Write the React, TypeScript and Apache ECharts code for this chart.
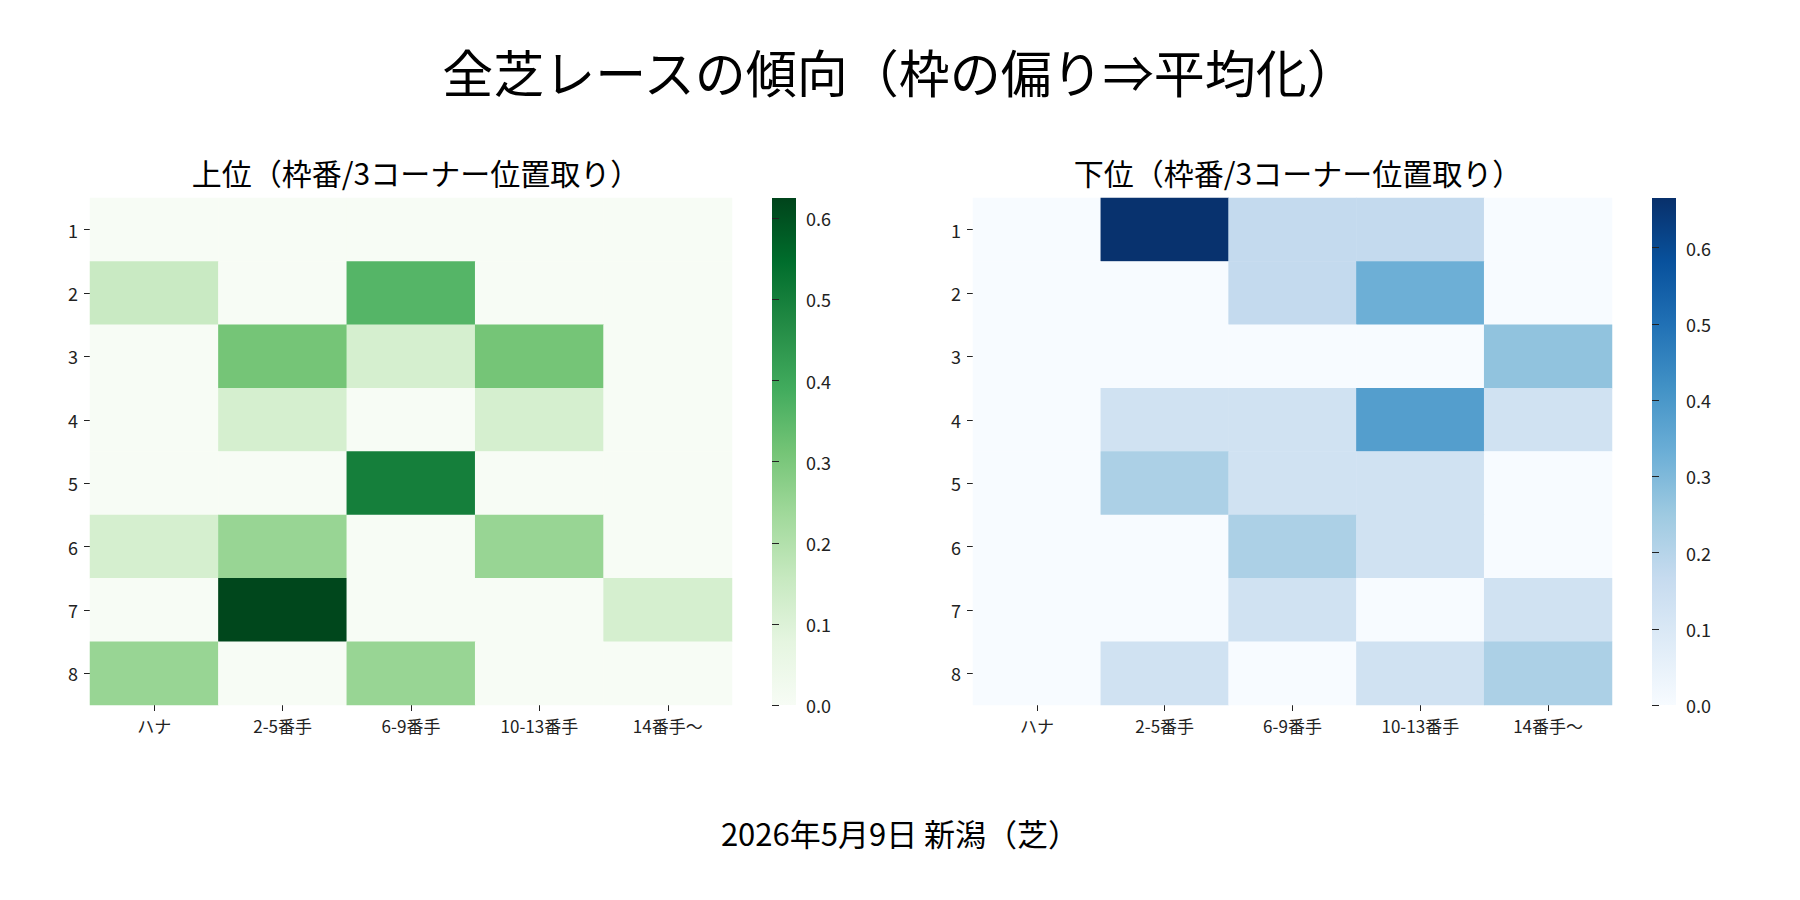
import * as echarts from "echarts";
import { useEffect, useRef } from "react";

const cols = ["ハナ", "2-5番手", "6-9番手", "10-13番手", "14番手〜"];
const rows = ["1", "2", "3", "4", "5", "6", "7", "8"];

const topValues = [
  [0, 0, 0, 0, 0],
  [0.15, 0, 0.36, 0, 0],
  [0, 0.31, 0.12, 0.31, 0],
  [0, 0.12, 0, 0.12, 0],
  [0, 0, 0.5, 0, 0],
  [0.12, 0.25, 0, 0.25, 0],
  [0, 0.62, 0, 0, 0.12],
  [0.25, 0, 0.25, 0, 0]
];
const bottomValues = [
  [0, 0.66, 0.17, 0.17, 0],
  [0, 0, 0.17, 0.33, 0],
  [0, 0, 0, 0, 0.27],
  [0, 0.13, 0.13, 0.38, 0.13],
  [0, 0.22, 0.13, 0.13, 0],
  [0, 0, 0.22, 0.13, 0],
  [0, 0, 0.13, 0, 0.13],
  [0, 0.13, 0, 0.13, 0.22]
];
const topMax = 0.625;
const bottomMax = 0.665;

const greens = ["#f7fcf5", "#e5f5e0", "#c7e9c0", "#a1d99b", "#74c476", "#41ab5d", "#238b45", "#006d2c", "#00441b"];
const blues = ["#f7fbff", "#deebf7", "#c6dbef", "#9ecae1", "#6baed6", "#4292c6", "#2171b5", "#08519c", "#08306b"];

const font = "'Noto Sans CJK JP', 'Noto Sans', sans-serif";

const panels = [
  { left: 90, width: 642, barLeft: 772, title: "上位（枠番/3コーナー位置取り）", values: topValues, max: topMax, colors: greens },
  { left: 973, width: 639, barLeft: 1652, title: "下位（枠番/3コーナー位置取り）", values: bottomValues, max: bottomMax, colors: blues }
];
const top = 198;
const height = 507;
const barWidth = 24;

function toCells(values: number[][]) {
  const out: number[][] = [];
  values.forEach((row, r) => row.forEach((v, c) => out.push([c, r, v])));
  return out;
}

function buildOption(): echarts.EChartsOption {
  const grid: any[] = [];
  const xAxis: any[] = [];
  const yAxis: any[] = [];
  const series: any[] = [];
  const visualMap: any[] = [];
  const graphic: any[] = [];
  const label = { color: "#222", fontSize: 18, fontFamily: font };

  panels.forEach((p, i) => {
    const g = i * 2;
    grid.push({ left: p.left, top, width: p.width, height });
    grid.push({ left: p.barLeft, top, width: barWidth, height });
    xAxis.push({
      type: "category", gridIndex: g, data: cols, position: "bottom",
      axisLine: { show: false }, axisTick: { show: true, length: 6, alignWithLabel: true, lineStyle: { color: "#222" } },
      axisLabel: { ...label, fontSize: 17, margin: 12 }, splitLine: { show: false }
    });
    xAxis.push({ type: "value", gridIndex: g + 1, show: false, min: 0, max: 1 });
    yAxis.push({
      type: "category", gridIndex: g, data: rows, inverse: true,
      axisLine: { show: false }, axisTick: { show: true, length: 6, alignWithLabel: true, lineStyle: { color: "#222" } },
      axisLabel: { ...label, margin: 12 }, splitLine: { show: false }
    });
    yAxis.push({
      type: "value", gridIndex: g + 1, position: "right", min: 0, max: p.max, interval: 0.1,
      axisLine: { show: false }, axisTick: { show: true, length: 7, lineStyle: { color: "#222" } },
      axisLabel: { ...label, margin: 10, showMaxLabel: false, formatter: (v: number) => v.toFixed(1) }, splitLine: { show: false }
    });
    series.push({
      type: "heatmap", xAxisIndex: g, yAxisIndex: g, data: toCells(p.values),
      itemStyle: { borderWidth: 0 }, emphasis: { disabled: true }
    });
    visualMap.push({ show: false, seriesIndex: i, min: 0, max: p.max, inRange: { color: p.colors } });
    graphic.push({
      type: "rect", shape: { x: p.barLeft, y: top, width: barWidth, height }, z: -1,
      style: {
        fill: new echarts.graphic.LinearGradient(0, 1, 0, 0,
          p.colors.map((c, k) => ({ offset: k / (p.colors.length - 1), color: c })))
      }
    });
  });

  return {
    animation: false,
    backgroundColor: "#fff",
    title: [
      { text: "全芝レースの傾向（枠の偏り⇒平均化）", left: "center", top: 40, textStyle: { fontSize: 51, fontWeight: "normal", color: "#000", fontFamily: font } },
      { text: panels[0].title, left: 90 + 321, textAlign: "center", top: 152, textStyle: { fontSize: 30, fontWeight: "normal", color: "#000", fontFamily: font } },
      { text: panels[1].title, left: 973 + 320, textAlign: "center", top: 152, textStyle: { fontSize: 30, fontWeight: "normal", color: "#000", fontFamily: font } },
      { text: "2026年5月9日 新潟（芝）", left: "center", top: 812, textStyle: { fontSize: 31, fontWeight: "normal", color: "#000", fontFamily: font } }
    ],
    grid, xAxis, yAxis, series, visualMap, graphic
  };
}

export default function App() {
  const ref = useRef<HTMLDivElement | null>(null);
  useEffect(() => {
    document.body.style.margin = "0";
    if (!ref.current) return;
    const chart = echarts.init(ref.current, undefined, { renderer: "svg" });
    chart.setOption(buildOption());
    return () => chart.dispose();
  }, []);
  return <div ref={ref} style={{ width: 1800, height: 900 }} />;
}
